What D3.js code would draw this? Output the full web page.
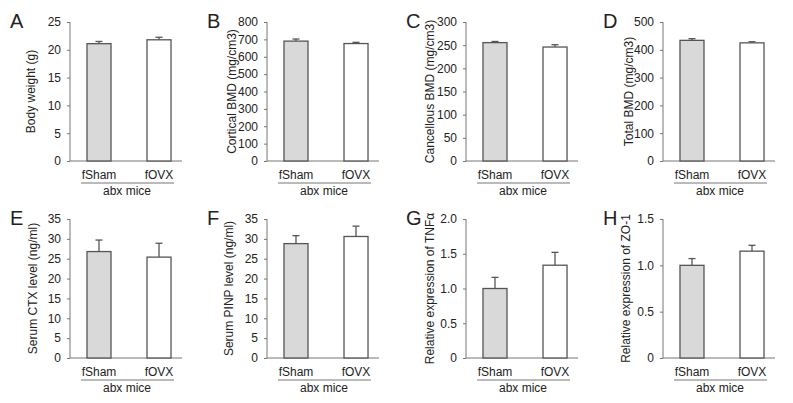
<!DOCTYPE html>
<html><head><meta charset="utf-8">
<script src="https://cdn.jsdelivr.net/npm/d3@7/dist/d3.min.js"></script>
<style>body{margin:0;background:#fff}svg{display:block}text{font-family:"Liberation Sans",Arial,sans-serif;fill:#222}</style>
</head><body><svg id="c" width="793" height="403"></svg>
<script>
const categories = ["fSham", "fOVX"];
const groupLabel = "abx mice";
const panelLetters = ["A","B","C","D","E","F","G","H"];
const yLabels = ["Body weight (g)","Cortical BMD (mg/cm3)","Cancellous BMD (mg/cm3)","Total BMD (mg/cm3)",
  "Serum CTX level (ng/ml)","Serum PINP level (ng/ml)","Relative expression of TNFα","Relative expression of ZO-1"];
const means = [[21.1,21.8],[690,676],[255.5,246],[434,425],[26.8,25.4],[28.8,30.6],[1.0,1.335],[1.0,1.153]];
const errors = [[0.4,0.45],[12,7],[2.5,5],[6,4],[2.9,3.5],[2.0,2.6],[0.16,0.185],[0.073,0.063]];
const yMax = [25,800,300,500,35,35,2.0,1.5];
const yTicks = [[0,5,10,15,20,25],[0,100,200,300,400,500,600,700,800],[0,50,100,150,200,250,300],[0,100,200,300,400,500],
  [0,5,10,15,20,25,30,35],[0,5,10,15,20,25,30,35],[0,0.5,1.0,1.5,2.0],[0,0.5,1.0,1.5]];
const tickFormats = [d3.format("d"),d3.format("d"),d3.format("d"),d3.format("d"),d3.format("d"),d3.format("d"),
  d=>d===0?"0":d3.format(".1f")(d), d=>d===0?"0":d3.format(".1f")(d)];
const fills = ["#d9d9d9","#ffffff"];

const svg = d3.select("#c");
const axisXs = [70,267,466,663];
const rows = [{top:22,bottom:161},{top:219,bottom:358}];
const labelOffsets = [-39,-35,-36,-34,-37,-38,-36,-37];

for (let i=0;i<8;i++){
  const ax = axisXs[i%4], r = rows[Math.floor(i/4)];
  const g = svg.append("g");
  const y = d3.scaleLinear().domain([0,yMax[i]]).range([r.bottom,r.top]);
  const x = d3.scaleBand().domain(categories).range([ax, ax+118]).paddingInner(0.6).paddingOuter(0.283);
  // y axis
  const yAxis = d3.axisLeft(y).tickValues(yTicks[i]).tickFormat(tickFormats[i]).tickSize(3).tickPadding(6);
  const ga = g.append("g").attr("transform",`translate(${ax},0)`).call(yAxis);
  ga.select(".domain").attr("stroke","#777").attr("d",`M0,${r.top}V${r.bottom}`);
  ga.selectAll(".tick line").attr("stroke","#777");
  ga.selectAll(".tick text").attr("font-size",12).attr("font-family","Liberation Sans, Arial, sans-serif").attr("fill","#222");
  // x axis line
  g.append("line").attr("x1",ax).attr("x2",ax+112).attr("y1",r.bottom).attr("y2",r.bottom).attr("stroke","#777");
  // bars
  categories.forEach((c,k)=>{
    const v = means[i][k], e = errors[i][k];
    const cx = x(c)+x.bandwidth()/2;
    g.append("line").attr("x1",cx).attr("x2",cx).attr("y1",y(v)).attr("y2",y(v+e)).attr("stroke","#555").attr("stroke-width",1.3);
    g.append("line").attr("x1",cx-3.5).attr("x2",cx+3.5).attr("y1",y(v+e)).attr("y2",y(v+e)).attr("stroke","#555").attr("stroke-width",1.3);
    g.append("rect").attr("x",x(c)).attr("width",x.bandwidth()).attr("y",y(v)).attr("height",r.bottom-y(v))
      .attr("fill",fills[k]).attr("stroke","#555").attr("stroke-width",1.3);
    g.append("text").attr("x",cx).attr("y",r.bottom+18).attr("text-anchor","middle").attr("font-size",12).text(c);
  });
  g.append("line").attr("x1",ax+11).attr("x2",ax+104).attr("y1",r.bottom+22).attr("y2",r.bottom+22).attr("stroke","#777");
  g.append("text").attr("x",ax+57).attr("y",r.bottom+34).attr("text-anchor","middle").attr("font-size",12).text(groupLabel);
  // y label
  g.append("text").attr("transform",`translate(${ax+labelOffsets[i]+4},${(r.top+r.bottom)/2}) rotate(-90)`)
    .attr("text-anchor","middle").attr("font-size",12).text(yLabels[i]);
  // panel letter
  g.append("text").attr("x",ax-60).attr("y",r.top+6).attr("font-size",20).text(panelLetters[i]);
}
</script></body></html>
